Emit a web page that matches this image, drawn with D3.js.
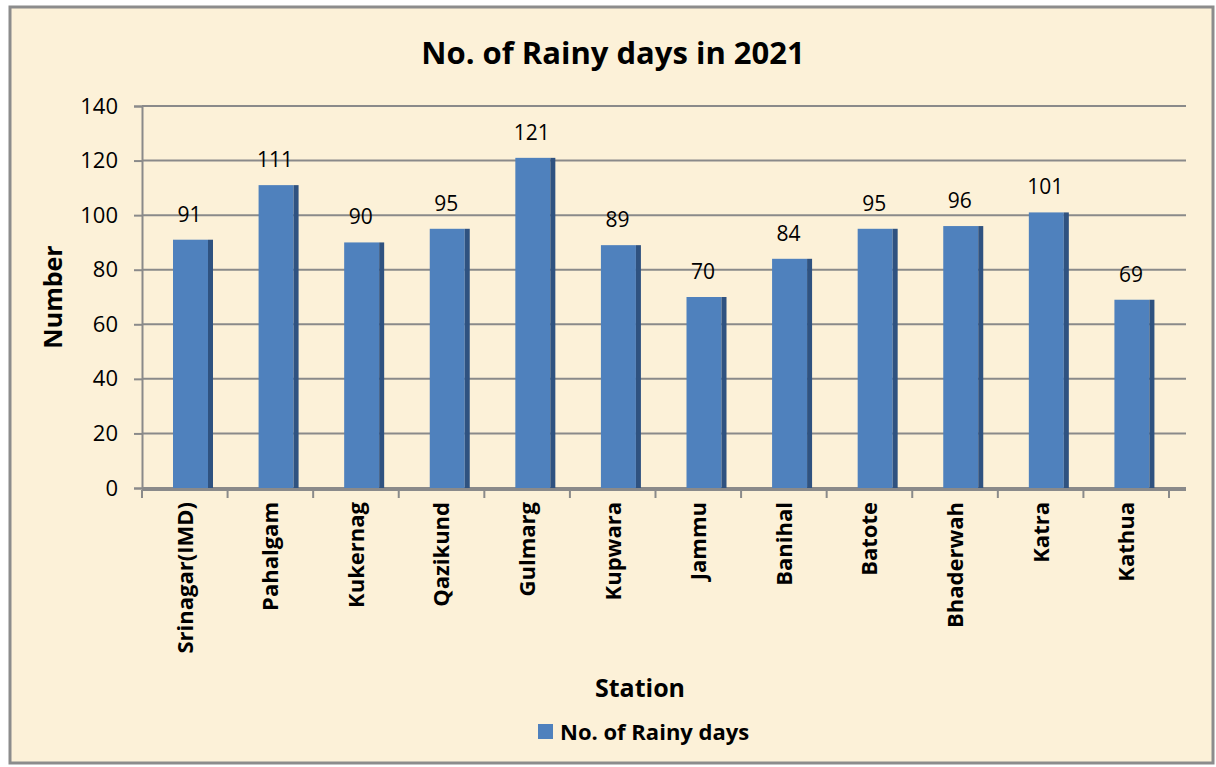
<!DOCTYPE html>
<html>
<head>
<meta charset="utf-8">
<script src="https://cdn.jsdelivr.net/npm/d3@7"></script>
<style>
  body { margin: 0; background: #ffffff; }
  svg { display: block; }
  text { font-family: "Open Sans", Lato, sans-serif; fill: #000; }
</style>
</head>
<body>
<div id="chart"></div>
<script>
const stations = ["Srinagar(IMD)", "Pahalgam", "Kukernag", "Qazikund", "Gulmarg", "Kupwara",
  "Jammu", "Banihal", "Batote", "Bhaderwah", "Katra", "Kathua"];
const rainyDays = [91, 111, 90, 95, 121, 89, 70, 84, 95, 96, 101, 69];
const yTicks = [0, 20, 40, 60, 80, 100, 120, 140];
const seriesName = "No. of Rainy days";

const width = 1216, height = 767;
const plot = { left: 142, right: 1169, top: 106, bottom: 488 };
const depth = 17;

const svg = d3.select("#chart").append("svg")
  .attr("width", width).attr("height", height);

// frame
svg.append("rect")
  .attr("x", 10).attr("y", 7).attr("width", 1203).attr("height", 756)
  .attr("fill", "#fcf1d8").attr("stroke", "#8c8c8c").attr("stroke-width", 3);

const x = d3.scaleBand().domain(stations).range([plot.left, plot.right]);
const y = d3.scaleLinear().domain([0, 140]).range([plot.bottom, plot.top]);

// gridlines
svg.append("g").selectAll("line")
  .data(yTicks).enter().append("line")
  .attr("x1", plot.left).attr("x2", plot.right + depth)
  .attr("y1", d => y(d)).attr("y2", d => y(d))
  .attr("stroke", "#8a8a8a").attr("stroke-width", 2);

// y axis
const yAxis = svg.append("g")
  .attr("transform", "translate(" + plot.left + ",0)")
  .call(d3.axisLeft(y).tickValues(yTicks).tickSize(8).tickPadding(16));
yAxis.select(".domain").attr("stroke", "#8a8a8a").attr("stroke-width", 2);
yAxis.selectAll(".tick line").attr("stroke", "#8a8a8a").attr("stroke-width", 2);
yAxis.selectAll("text").style("font-size", "22px").style("font-family", "'Open Sans', sans-serif");

// x axis
const xAxis = svg.append("g")
  .attr("transform", "translate(0," + (plot.bottom + 2) + ")");
xAxis.append("line")
  .attr("x1", plot.left).attr("x2", plot.right + depth)
  .attr("stroke", "#8a8a8a").attr("stroke-width", 2);
xAxis.selectAll("line.tk")
  .data(stations.concat(["_end"])).enter().append("line")
  .attr("class", "tk")
  .attr("x1", (d, i) => plot.left + i * x.step())
  .attr("x2", (d, i) => plot.left + i * x.step())
  .attr("y1", 0).attr("y2", 8)
  .attr("stroke", "#8a8a8a").attr("stroke-width", 2);
xAxis.selectAll("text")
  .data(stations).enter().append("text")
  .attr("transform", d => "translate(" + (x(d) + x.bandwidth() / 2) + ",12) rotate(-90)")
  .attr("text-anchor", "end")
  .attr("dy", "0.36em")
  .style("font-size", "22px").style("font-weight", "bold")
  .text(d => d);

// bars
const faceOffset = 31, faceW = 35, sideW = 5;
const bars = svg.append("g").selectAll("g")
  .data(stations.map((s, i) => ({ s, v: rainyDays[i] }))).enter().append("g");
bars.append("rect")
  .attr("x", d => x(d.s) + faceOffset)
  .attr("y", d => y(d.v))
  .attr("width", faceW)
  .attr("height", d => y(0) - y(d.v))
  .attr("fill", "#4f81bd");
bars.append("rect")
  .attr("x", d => x(d.s) + faceOffset + faceW)
  .attr("y", d => y(d.v))
  .attr("width", sideW)
  .attr("height", d => y(0) - y(d.v))
  .attr("fill", "#2f5280");
bars.append("text")
  .attr("x", d => x(d.s) + faceOffset + faceW / 2 - 1)
  .attr("y", d => y(d.v) - 18)
  .attr("text-anchor", "middle")
  .style("font-size", "21px")
  .text(d => d.v);

// titles
svg.append("text")
  .attr("x", 613).attr("y", 64)
  .attr("text-anchor", "middle")
  .style("font-size", "31px").style("font-weight", "bold")
  .text("No. of Rainy days in 2021");

svg.append("text")
  .attr("transform", "translate(62," + ((plot.top + plot.bottom) / 2) + ") rotate(-90)")
  .attr("text-anchor", "middle")
  .style("font-size", "25px").style("font-weight", "bold")
  .text("Number");

svg.append("text")
  .attr("x", 640).attr("y", 697)
  .attr("text-anchor", "middle")
  .style("font-size", "25px").style("font-weight", "bold")
  .text("Station");

// legend
svg.append("rect")
  .attr("x", 538).attr("y", 724).attr("width", 15).attr("height", 15)
  .attr("fill", "#4f81bd");
svg.append("text")
  .attr("x", 560).attr("y", 740)
  .style("font-size", "22px").style("font-weight", "bold")
  .text(seriesName);
</script>
</body>
</html>
